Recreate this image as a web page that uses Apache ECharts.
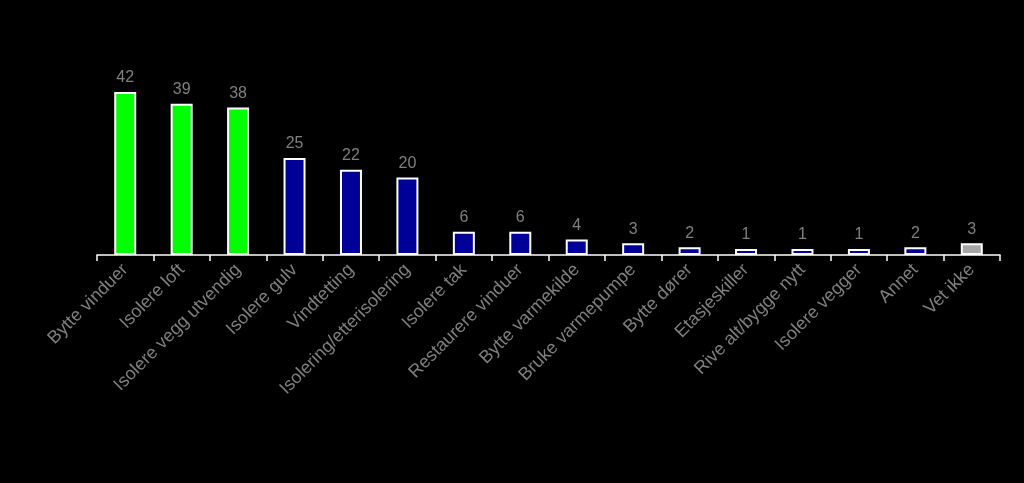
<!DOCTYPE html>
<html><head><meta charset="utf-8">
<script src="https://cdn.jsdelivr.net/npm/echarts@6/dist/echarts.min.js"></script>
<style>html,body{margin:0;padding:0;background:#000;}#c{width:1024px;height:483px;}</style>
</head><body><div id="c"></div>
<script>
const categories = ["Bytte vinduer","Isolere loft","Isolere vegg utvendig","Isolere gulv","Vindtetting","Isolering/etterisolering","Isolere tak","Restaurere vinduer","Bytte varmekilde","Bruke varmepumpe","Bytte dører","Etasjeskiller","Rive alt/bygge nytt","Isolere vegger","Annet","Vet ikke"];
const values = [42,39,38,25,22,20,6,6,4,3,2,1,1,1,2,3];
const colorGroups = ["green","green","green","blue","blue","blue","blue","blue","blue","blue","blue","blue","blue","blue","blue","gray"];
const palette = {green:"#00FF00", blue:"#000099", gray:"#A6A6A6"};

const chart = echarts.init(document.getElementById('c'));
chart.setOption({
  backgroundColor:"#000",
  animation:false,
  grid:{left:97,right:24,top:61,bottom:228,containLabel:false},
  xAxis:{type:'category',data:categories,
    axisLine:{lineStyle:{color:'#fff',width:1.5}},
    axisTick:{show:true,alignWithLabel:false,length:6,lineStyle:{color:'#fff',width:1.5}},
    axisLabel:{rotate:45,color:'#7f7f7f',fontFamily:'Liberation Sans, Arial',fontSize:18,interval:0,margin:12}
  },
  yAxis:{type:'value',min:0,max:50,show:false,splitLine:{show:false}},
  series:[{type:'bar',barWidth:22,barMinHeight:6,
    data:values.map((v,i)=>({value:v,itemStyle:{color:palette[colorGroups[i]]}})),
    itemStyle:{borderColor:'#fff',borderWidth:2},
    label:{show:true,position:'top',distance:6,color:'#7f7f7f',fontFamily:'Liberation Sans, Arial',fontSize:16}
  }]
});
</script></body></html>
